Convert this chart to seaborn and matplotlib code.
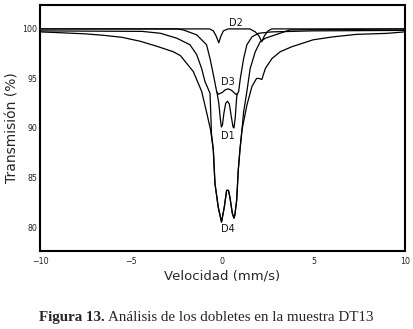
import numpy as np
import pandas as pd
import matplotlib
matplotlib.use("Agg")
import matplotlib.pyplot as plt
import seaborn as sns
from matplotlib.ticker import MultipleLocator

sns.set_style("white")
plt.rcParams['font.family'] = ['DejaVu Sans']

# curves: velocity (mm/s) and transmission (%)
d4_x = [-10, -8.7, -7.5, -6.5, -5.5, -4.5, -3.6, -2.7, -2.3, -1.6, -1.14, -0.87,
        -0.65, -0.5, -0.41, -0.23, -0.05, 0.1, 0.23, 0.33, 0.41, 0.54, 0.63, 0.68,
        0.78, 0.87, 0.96, 1.07, 1.34, 1.62, 1.87, 2.0, 2.16, 2.35, 2.71, 3.17,
        3.8, 4.97, 6.07, 7.35, 9.0, 10]
d4_y = [99.7, 99.6, 99.5, 99.35, 99.15, 98.75, 98.25, 97.7, 97.3, 95.7, 93.7, 91.6,
        89.8, 87.8, 84.4, 82.0, 80.5, 82.0, 83.7, 83.7, 83.0, 81.4, 80.9, 81.2,
        82.7, 85.8, 87.8, 89.8, 92.3, 94.2, 95.0, 95.0, 94.9, 96.0, 97.0, 97.7,
        98.2, 98.9, 99.2, 99.45, 99.55, 99.7]

# second curve: its own wings, bottom hidden under the D4 curve
env_x = [-10, -4.4, -3.4, -2.5, -1.78, -1.41, -1.14, -0.96, -0.68, -0.6,
         -0.5, -0.41, -0.23, -0.05, 0.1, 0.23, 0.33, 0.41, 0.54, 0.63, 0.68,
         0.78, 0.87, 0.96, 1.07, 1.16, 1.34, 1.52, 1.8, 2.07, 2.35, 2.9, 3.7, 10]
env_y = [99.8, 99.75, 99.56, 99.06, 98.4, 97.4, 96.0, 94.7, 93.5, 89.4,
         87.8, 84.4, 82.0, 80.5, 82.0, 83.7, 83.7, 83.0, 81.4, 80.9, 81.2,
         82.7, 85.8, 87.8, 89.8, 91.6, 93.7, 96.0, 97.7, 98.7, 99.06, 99.4, 99.9, 100.0]

d3_x = [-10, -2.5, -2.15, -1.41, -0.87, -0.68, -0.5, -0.32, -0.23, 0.0, 0.15,
        0.32, 0.5, 0.7, 0.8, 0.89, 0.98, 1.16, 1.34, 1.62, 1.98, 2.71, 4.9, 10]
d3_y = [100.0, 100.0, 99.9, 99.4, 98.4, 97.0, 95.4, 93.7, 93.4, 93.6, 93.85,
        93.95, 93.8, 93.45, 93.35, 93.7, 95.0, 97.0, 98.4, 99.2, 99.56, 99.7, 99.8, 99.85]

d2_x = [-10, -0.7, -0.5, -0.35, -0.2, -0.1, 0.05, 0.3, 1.5, 1.8, 2.0, 2.15,
        2.3, 2.5, 2.7, 10]
d2_y = [100.0, 100.0, 99.8, 99.3, 98.6, 99.2, 99.8, 100.0, 100.0, 99.7, 99.3,
        98.7, 99.3, 99.8, 100.0, 100.0]

d1_x = [-0.3, -0.2, -0.12, -0.06, 0.0, 0.08, 0.18, 0.28, 0.38, 0.48, 0.58,
        0.63, 0.7, 0.76, 0.8]
d1_y = [93.6, 92.5, 91.0, 90.1, 90.3, 91.5, 92.5, 92.7, 92.4, 91.2, 90.1,
        90.0, 91.0, 92.6, 93.5]

labels = ['D1', 'D2', 'D3', 'D4']
label_x = [0.28, 0.72, 0.32, 0.32]
label_y = [89.2, 100.6, 94.6, 79.8]

fig = plt.figure(figsize=(4.14, 3.29), dpi=100)
ax = fig.add_axes([0.0966, 0.237, 0.8814, 0.748])

for xs, ys in [(d4_x, d4_y), (env_x, env_y), (d3_x, d3_y), (d2_x, d2_y), (d1_x, d1_y)]:
    sns.lineplot(x=xs, y=ys, ax=ax, color='black', linewidth=0.9,
                 sort=False, estimator=None)

for lab, lx, ly in zip(labels, label_x, label_y):
    ax.text(lx, ly, lab, ha='center', va='center', fontsize=7, color='#111111')

ax.set_xlim(-10, 10)
ax.set_ylim(77.58, 102.42)
ax.xaxis.set_major_locator(MultipleLocator(5))
ax.xaxis.set_minor_locator(MultipleLocator(2.5))
ax.yaxis.set_major_locator(MultipleLocator(5))
ax.yaxis.set_minor_locator(MultipleLocator(2.5))
ax.set_yticks([80, 85, 90, 95, 100])
ax.tick_params(which='both', direction='in', length=4, width=1, labelsize=5.7,
               colors='black', labelcolor='#222222')
ax.tick_params(axis='x', pad=4)
ax.tick_params(axis='y', pad=2)
for s in ax.spines.values():
    s.set_linewidth(1.5)
    s.set_color('black')

ax.set_xlabel('Velocidad (mm/s)', fontsize=9.5, labelpad=3)
ax.set_ylabel('Transmisión (%)', fontsize=10, labelpad=2)

t1 = fig.text(0.094, 0.036, 'Figura 13.', fontsize=10.8, fontweight='bold',
              family='Liberation Serif', va='center', ha='left')
fig.canvas.draw()
bb = t1.get_window_extent().transformed(fig.transFigure.inverted())
fig.text(bb.x1 + 0.008, 0.036, 'Análisis de los dobletes en la muestra DT13',
         fontsize=10.8, family='Liberation Serif', va='center', ha='left')

fig.savefig('out.png', dpi=100)
